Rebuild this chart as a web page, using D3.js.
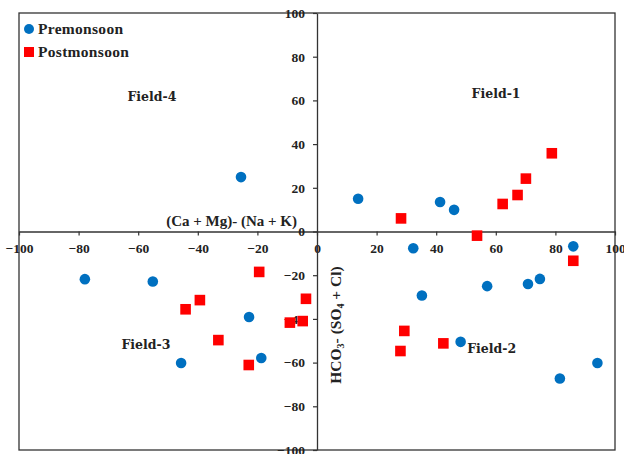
<!DOCTYPE html>
<html>
<head>
<meta charset="utf-8">
<script src="https://cdn.jsdelivr.net/npm/d3@7"></script>
<style>
  body { margin: 0; background: #fff; }
  svg text { font-family: "Liberation Serif", "Times New Roman", serif; font-weight: bold; fill: #222; }
</style>
</head>
<body>
<svg id="chart" width="624" height="454"></svg>
<script>
// premonsoon samples (x = (Ca+Mg)-(Na+K), y = HCO3-(SO4+Cl))
const preX = [-77.9, -55.1, -25.5, -22.8, -18.7, -45.6, 13.8, 41.3, 46.0, 32.3, 35.2, 57.1, 70.8, 74.8, 86.0, 48.2, 81.5, 94.1];
const preY = [-21.8, -22.9, 24.9, -39.1, -57.9, -60.2, 15.0, 13.5, 9.9, -7.7, -29.3, -25.0, -24.0, -21.7, -6.8, -50.5, -67.3, -60.2];

// postmonsoon samples
const postX = [-19.4, 28.2, 53.7, 62.3, 67.3, 70.1, 78.8, 86.0, -44.1, -39.3, -33.1, -22.9, -9.1, -4.8, -3.7, 29.3, 28.0, 42.4];
const postY = [-18.5, 6.0, -1.9, 12.6, 16.7, 24.2, 35.8, -13.4, -35.6, -31.4, -49.7, -61.1, -41.7, -41.0, -30.8, -45.5, -54.7, -51.2];

const ticks = [-100, -80, -60, -40, -20, 0, 20, 40, 60, 80, 100];
const seriesNames = ["Premonsoon", "Postmonsoon"];
const fieldNames = ["Field-1", "Field-2", "Field-3", "Field-4"];

const svg = d3.select("#chart");
const plotL = 19, plotR = 615, plotT = 13, plotB = 450;

const x = d3.scaleLinear().domain([-100, 100]).range([plotL, plotR]);
const y = d3.scaleLinear().domain([-100, 100]).range([plotB, plotT]);

const blue = "#0070C0", red = "#FF0000", axisCol = "#333";

// frame
svg.append("rect")
    .attr("x", plotL).attr("y", plotT)
    .attr("width", plotR - plotL).attr("height", plotB - plotT)
    .attr("fill", "none").attr("stroke", axisCol).attr("stroke-width", 1.3);

// x axis through y=0
const xAxis = svg.append("g")
    .attr("transform", `translate(0,${y(0)})`)
    .call(d3.axisBottom(x).tickValues(ticks).tickSize(4).tickSizeOuter(0).tickPadding(8));

// y axis through x=0
const yAxis = svg.append("g")
    .attr("transform", `translate(${x(0)},0)`)
    .call(d3.axisLeft(y).tickValues(ticks).tickSize(4).tickSizeOuter(0).tickPadding(8));

[xAxis, yAxis].forEach(a => {
    a.select(".domain").attr("stroke", axisCol).attr("stroke-width", 1.3);
    a.selectAll(".tick line").attr("stroke", axisCol).attr("stroke-width", 1.2);
    a.selectAll(".tick text").attr("font-size", 13.5).attr("fill", "#222")
        .style("font-family", "'Liberation Serif', serif").style("font-weight", "bold");
});

// axis titles
svg.append("text")
    .attr("x", 297).attr("y", 226)
    .attr("text-anchor", "end")
    .attr("font-size", 15)
    .text("(Ca + Mg)- (Na + K)");

const yt = svg.append("text")
    .attr("transform", `translate(341,325) rotate(-90)`)
    .attr("text-anchor", "middle")
    .attr("font-size", 15.5);
yt.append("tspan").text("HCO");
yt.append("tspan").attr("font-size", 10).attr("dy", 3).text("3");
yt.append("tspan").attr("dy", -3).text("- (SO");
yt.append("tspan").attr("font-size", 10).attr("dy", 3).text("4");
yt.append("tspan").attr("dy", -3).text(" + Cl)");

// field labels
const fieldPos = [[60.1, 62.9], [58.6, -53.5], [-57.4, -52], [-55.4, 61.6]];
svg.selectAll(".field")
    .data(fieldNames)
    .enter().append("text")
    .attr("class", "field")
    .attr("x", (d, i) => x(fieldPos[i][0]))
    .attr("y", (d, i) => y(fieldPos[i][1]))
    .attr("dy", "0.35em")
    .attr("text-anchor", "middle")
    .attr("font-size", 12.5)
    .style("font-family", "'DejaVu Serif', serif")
    .text(d => d);

// points
svg.selectAll(".pre")
    .data(d3.zip(preX, preY))
    .enter().append("circle")
    .attr("cx", d => x(d[0])).attr("cy", d => y(d[1]))
    .attr("r", 5.3)
    .attr("fill", blue);

svg.selectAll(".post")
    .data(d3.zip(postX, postY))
    .enter().append("rect")
    .attr("x", d => x(d[0]) - 5.3).attr("y", d => y(d[1]) - 5.3)
    .attr("width", 10.6).attr("height", 10.6)
    .attr("fill", red);

// legend
const legend = svg.append("g").attr("transform", "translate(29,29)");
const items = legend.selectAll("g")
    .data(seriesNames)
    .enter().append("g")
    .attr("transform", (d, i) => `translate(0,${i * 23})`);
items.each(function (d, i) {
    const g = d3.select(this);
    if (i === 0) g.append("circle").attr("r", 5).attr("fill", blue);
    else g.append("rect").attr("x", -5).attr("y", -5).attr("width", 10).attr("height", 10).attr("fill", red);
});
items.append("text")
    .attr("x", 9).attr("dy", "0.35em")
    .attr("font-size", 15.5)
    .attr("letter-spacing", 0.3)
    .text(d => d);
</script>
</body>
</html>
